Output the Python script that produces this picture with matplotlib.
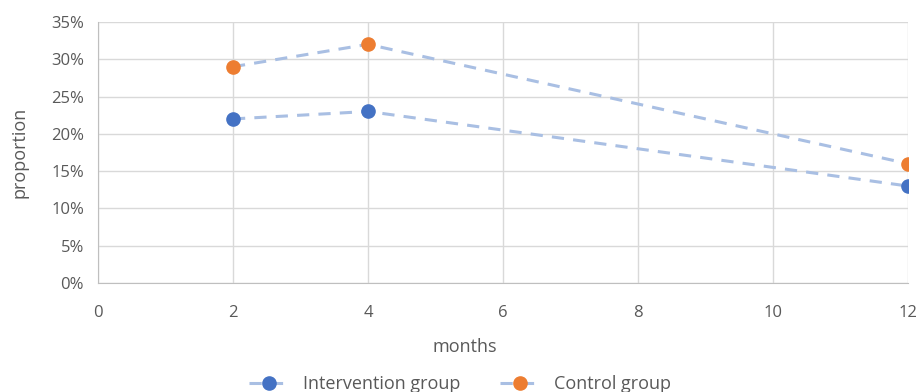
import matplotlib.pyplot as plt
from matplotlib.ticker import PercentFormatter

months = [2, 4, 12]
intervention = [0.22, 0.23, 0.13]
control = [0.29, 0.32, 0.16]

line_color = '#A9BFE3'
text_color = '#595959'
grid_color = '#D9D9D9'

plt.rcParams['font.family'] = ['Open Sans', 'DejaVu Sans']

fig = plt.figure(figsize=(9.21, 3.92), dpi=100)
ax = fig.add_axes([0.1064, 0.278, 0.8795, 0.666])

ax.plot(months, intervention, linestyle='--', dashes=(4, 3), color=line_color, linewidth=2.2,
        marker='o', markersize=9.5, markerfacecolor='#4472C4', markeredgecolor='#4472C4',
        label='Intervention group')
ax.plot(months, control, linestyle='--', dashes=(4, 3), color=line_color, linewidth=2.2,
        marker='o', markersize=9.5, markerfacecolor='#ED7D31', markeredgecolor='#ED7D31',
        label='Control group')

ax.set_xlim(0, 12)
ax.set_ylim(0, 0.35)
ax.set_xticks(range(0, 13, 2))
ax.set_yticks([i * 0.05 for i in range(8)])
ax.yaxis.set_major_formatter(PercentFormatter(1.0, decimals=0))
ax.grid(True, color=grid_color, linewidth=1)
ax.set_axisbelow(True)
for s in ['top', 'right']:
    ax.spines[s].set_visible(False)
for s in ['left', 'bottom']:
    ax.spines[s].set_color('#BFBFBF')
ax.tick_params(length=0, colors=text_color, labelsize=12)
ax.tick_params(axis='x', pad=16)
ax.tick_params(axis='y', pad=10)

ax.set_xlabel('months', fontsize=13, color=text_color)
ax.set_ylabel('proportion', fontsize=13, color=text_color)
ax.xaxis.set_label_coords(0.453, -0.21)
ax.yaxis.set_label_coords(-0.086, 0.5)

leg = ax.legend(loc='center', bbox_to_anchor=(0.447, -0.387), ncol=2, frameon=False,
                fontsize=13, handlelength=2.2, handletextpad=0.8, columnspacing=2.2)
for t in leg.get_texts():
    t.set_color(text_color)

fig.savefig('out.png', dpi=100)
